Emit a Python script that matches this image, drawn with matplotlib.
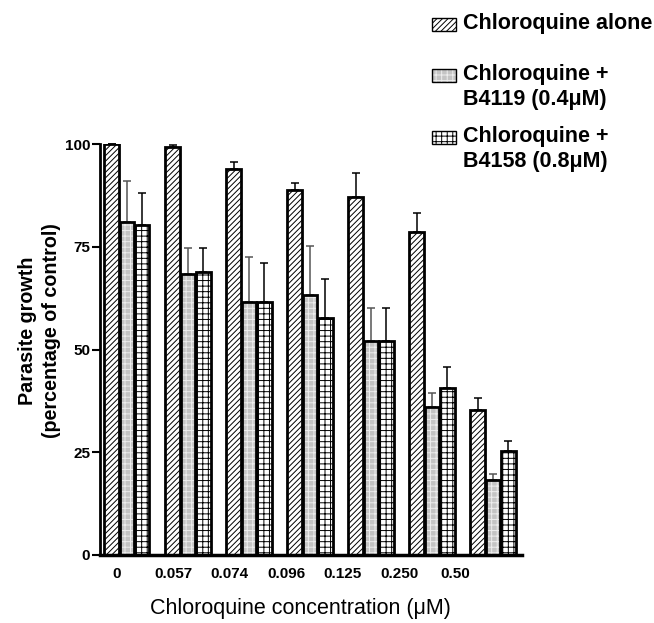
"""Chloroquine dose response, alone and with B4119 / B4158
"""
import numpy as np
import matplotlib
matplotlib.use('Agg')
import matplotlib.pyplot as plt
import matplotlib.patches as patches

plt.rcParams['font.family'] = ['Liberation Sans', 'DejaVu Sans']
plt.rcParams['hatch.linewidth'] = 0.7

concentrations = ['0', '0.057', '0.074', '0.096', '0.125', '0.250', '0.50']
series_labels = ['Chloroquine alone',
                 'Chloroquine +\nB4119 (0.4\u03bcM)',
                 'Chloroquine +\nB4158 (0.8\u03bcM)']

cq_alone = [100.0, 99.3, 93.9, 88.8, 87.1, 78.6, 35.3]
cq_alone_err = [0.0, 0.4, 1.7, 1.7, 5.8, 4.6, 2.9]
cq_b4119 = [81.0, 68.4, 61.6, 63.3, 52.1, 36.0, 18.2]
cq_b4119_err = [10.0, 6.3, 11.0, 12.0, 8.0, 3.4, 1.5]
cq_b4158 = [80.3, 68.9, 61.6, 57.7, 52.1, 40.6, 25.3]
cq_b4158_err = [7.7, 5.8, 9.5, 9.5, 8.0, 5.1, 2.4]

y_ticks = [0, 25, 50, 75, 100]

# fill style per series: facecolor, hatch, hatch colour
styles = [
    ('white', '//////', 'black'),
    ('#c4c4c4', '+++', '#eeeeee'),
    ('white', '+++', 'black'),
]

values = [cq_alone, cq_b4119, cq_b4158]
errors = [cq_alone_err, cq_b4119_err, cq_b4158_err]
err_colors = ['black', '#555555', 'black']

fig = plt.figure(figsize=(6.54, 6.23), dpi=100)
ax = fig.add_axes([100 / 654, 68 / 623, 422 / 654, 411 / 623])

x = np.arange(len(concentrations))
w = 0.25
for k in range(3):
    pos = x - 0.36 + w / 2 + k * w
    fc, hatch, hc = styles[k]
    ax.bar(pos, values[k], width=w * 0.96, color=fc, hatch=hatch,
           edgecolor=hc, linewidth=0, zorder=2)
    ax.bar(pos, values[k], width=w * 0.96, fill=False,
           edgecolor='black', linewidth=2.0, zorder=3)
    err = np.array(errors[k])
    ax.errorbar(pos, values[k], yerr=[np.zeros_like(err), err], fmt='none',
                ecolor=err_colors[k], elinewidth=1.1, capsize=3,
                capthick=1.1, zorder=1, clip_on=False)

ax.set_xlim(-0.426, 6.49)
ax.set_ylim(0, 100)
ax.spines['top'].set_visible(False)
ax.spines['right'].set_visible(False)
ax.spines['left'].set_linewidth(2.0)
ax.spines['bottom'].set_linewidth(2.5)

ax.set_yticks(y_ticks)
ax.set_yticklabels([str(t) for t in y_ticks], fontsize=11, fontweight='bold')
ax.tick_params(axis='y', direction='out', length=6, width=1.5, pad=1)

# the labels in the original sit a little left of each group
ax.set_xticks(x * 0.925 - 0.15)
ax.set_xticklabels(concentrations, fontsize=11, fontweight='bold')
ax.tick_params(axis='x', length=0, pad=9)

ax.set_ylabel('Parasite growth\n(percentage of control)', fontsize=14.2,
              fontweight='bold', linespacing=1.3)
ax.yaxis.set_label_coords(-0.093, 0.545)
ax.set_xlabel('Chloroquine concentration (\u03bcM)', fontsize=15.5)
ax.xaxis.set_label_coords(0.476, -0.104)

# legend drawn by hand, top right of the figure
leg_rows = [24, 75, 137]
for k in range(3):
    yc = 1 - leg_rows[k] / 623
    fc, hatch, hc = styles[k]
    r = patches.Rectangle((432 / 654, yc - 6.5 / 623), 24 / 654, 13 / 623,
                          transform=fig.transFigure, facecolor=fc,
                          hatch=hatch, edgecolor=hc, linewidth=0)
    fig.add_artist(r)
    r2 = patches.Rectangle((432 / 654, yc - 6.5 / 623), 24 / 654, 13 / 623,
                           transform=fig.transFigure, fill=False,
                           edgecolor='black', linewidth=1.0)
    fig.add_artist(r2)
    fig.text(463 / 654, yc + 11 / 623, series_labels[k], fontsize=15.5,
             fontweight='bold', va='top', ha='left', linespacing=1.27)

fig.savefig('out.png', dpi=100)
